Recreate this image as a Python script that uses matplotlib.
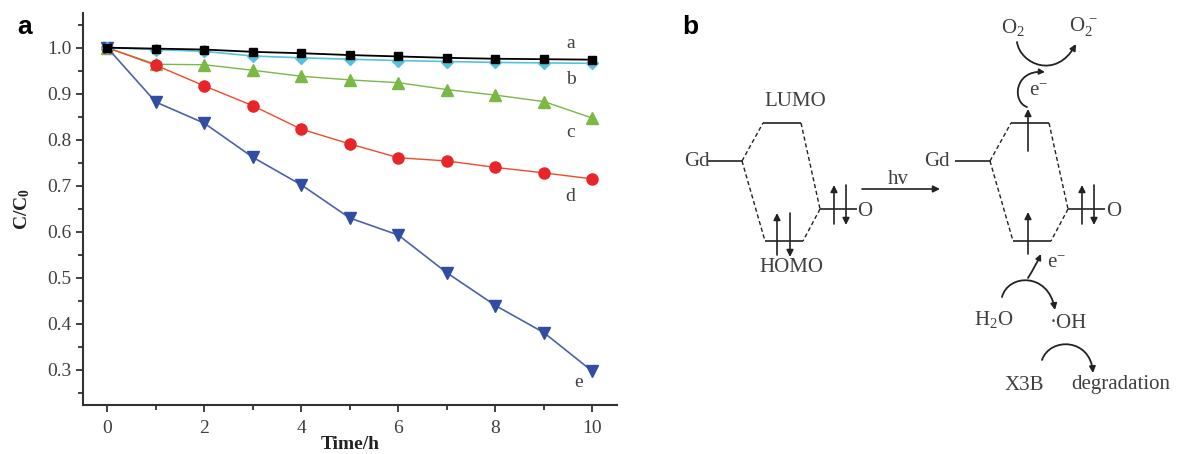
import matplotlib
matplotlib.use("Agg")
import matplotlib.pyplot as plt
from matplotlib.patches import FancyArrowPatch
from matplotlib.path import Path
from matplotlib.ticker import MultipleLocator

plt.rcParams['font.family'] = ['Liberation Serif', 'DejaVu Serif']
plt.rcParams['mathtext.fontset'] = 'custom'
plt.rcParams['mathtext.rm'] = 'Liberation Serif'
plt.rcParams['mathtext.it'] = 'Liberation Serif:italic'
plt.rcParams['mathtext.bf'] = 'Liberation Serif:bold'

# data
time = [0, 1, 2, 3, 4, 5, 6, 7, 8, 9, 10]
a_vals = [1.000, 0.998, 0.996, 0.991, 0.988, 0.984, 0.981, 0.978, 0.976, 0.975, 0.974]
b_vals = [1.000, 0.996, 0.992, 0.982, 0.978, 0.975, 0.972, 0.970, 0.968, 0.967, 0.966]
c_vals = [1.000, 0.964, 0.963, 0.951, 0.938, 0.930, 0.924, 0.909, 0.897, 0.883, 0.847]
d_vals = [1.000, 0.962, 0.917, 0.874, 0.823, 0.791, 0.761, 0.754, 0.740, 0.728, 0.715]
e_vals = [1.000, 0.882, 0.836, 0.762, 0.702, 0.630, 0.593, 0.511, 0.440, 0.381, 0.297]
curve_names = ['a', 'b', 'c', 'd', 'e']
name_pos = [(9.55, 1.010), (9.55, 0.932), (9.55, 0.815), (9.55, 0.677), (9.72, 0.272)]

fig = plt.figure(figsize=(11.77, 4.54), dpi=100)
ax = fig.add_axes([0.0705, 0.108, 0.4535, 0.863])

gray = '#404040'
ax.plot(time, b_vals, color='#56c3dc', lw=1.2, marker='D', ms=6, zorder=3)
ax.plot(time, a_vals, color='black', lw=1.3, marker='s', ms=5.5, zorder=4)
ax.plot(time, c_vals, color='#79b944', lw=1.0, marker='^', ms=8, zorder=2)
ax.plot(time, d_vals, color='#f04a28', lw=1.0, marker='o', ms=8, mfc='#e8262a', mec='#e8262a', zorder=2)
ax.plot(time, e_vals, color='#4a62b0', lw=1.2, marker='v', ms=8, mfc='#2f4ea3', mec='#2f4ea3', zorder=2)

for nm, (x, y) in zip(curve_names, name_pos):
    ax.text(x, y, nm, fontsize=14, color=gray, ha='center', va='center')

ax.set_xlim(-0.5, 10.5)
ax.set_ylim(0.224, 1.075)
ax.xaxis.set_major_locator(MultipleLocator(2))
ax.xaxis.set_minor_locator(MultipleLocator(1))
ax.yaxis.set_minor_locator(MultipleLocator(0.05))
ax.set_yticks([0.3, 0.4, 0.5, 0.6, 0.7, 0.8, 0.9, 1.0])
ax.set_yticklabels(['0.3', '0.4', '0.5', '0.6', '0.7', '0.8', '0.9', '1.0'])
for s in ['top', 'right']:
    ax.spines[s].set_visible(False)
for s in ['left', 'bottom']:
    ax.spines[s].set_linewidth(1.5)
    ax.spines[s].set_color('#333333')
ax.tick_params(which='major', direction='out', length=5, width=1.3, color='#333333',
               labelsize=14, labelcolor=gray)
ax.tick_params(axis='x', which='major', pad=6)
ax.tick_params(which='minor', direction='out', length=3.5, width=1.3, color='#333333')
ax.set_xlabel('Time/h', fontsize=14, fontweight='bold', color='#222222', labelpad=-1)
ax.set_ylabel(r'C/C$_\mathbf{0}$', fontsize=14, fontweight='bold', color='#222222', labelpad=11)

# panel b drawn in pixel coordinates
d = fig.add_axes([0, 0, 1, 1])
d.set_xlim(0, 1177)
d.set_ylim(454, 0)
d.axis('off')
d.patch.set_visible(False)

d.text(25, 27, 'a', fontsize=19, fontweight='bold', family='Liberation Sans', ha='center', va='center')
d.text(690, 27, 'b', fontsize=19, fontweight='bold', family='Liberation Sans', ha='center', va='center')

lc = '#222222'
fs = 15


def seg(x0, y0, x1, y1, dashed=False):
    d.plot([x0, x1], [y0, y1], color=lc, lw=1.2 if not dashed else 1.0,
           ls=(0, (3, 2)) if dashed else '-', solid_capstyle='butt')


def arr(x0, y0, x1, y1, hs=10):
    d.add_patch(FancyArrowPatch((x0, y0), (x1, y1), arrowstyle='-|>', mutation_scale=hs,
                                color=lc, lw=1.2, shrinkA=0, shrinkB=0))


def curve(p0, pm, p1, hs=9):
    cx = 2 * pm[0] - (p0[0] + p1[0]) / 2
    cy = 2 * pm[1] - (p0[1] + p1[1]) / 2
    path = Path([p0, (cx, cy), p1], [Path.MOVETO, Path.CURVE3, Path.CURVE3])
    d.add_patch(FancyArrowPatch(path=path, arrowstyle='-|>', mutation_scale=hs,
                                color=lc, lw=1.3))


def curve4(p0, c1, c2, p1, hs=9):
    path = Path([p0, c1, c2, p1], [Path.MOVETO, Path.CURVE4, Path.CURVE4, Path.CURVE4])
    d.add_patch(FancyArrowPatch(path=path, arrowstyle='-|>', mutation_scale=hs,
                                color=lc, lw=1.3))


def orbital(dx, right_side):
    # levels
    seg(707 + dx, 161, 742 + dx, 161)
    seg(763 + dx, 123, 801 + dx, 123)
    seg(765 + dx, 241, 803 + dx, 241)
    seg(820 + dx, 209, 857 + dx, 209)
    seg(742 + dx, 161, 763 + dx, 123, True)
    seg(742 + dx, 161, 765 + dx, 241, True)
    seg(801 + dx, 123, 820 + dx, 209, True)
    seg(820 + dx, 209, 803 + dx, 241, True)
    # O pair
    arr(834 + dx, 224, 834 + dx, 185)
    arr(846 + dx, 185, 846 + dx, 225)
    if right_side:
        arr(780 + dx, 254, 780 + dx, 212)
        arr(780 + dx, 151, 780 + dx, 109)
    else:
        arr(777, 255, 777, 213)
        arr(790, 213, 790, 257)


orbital(0, False)
orbital(248, True)

d.text(795, 102, 'LUMO', fontsize=fs, color=gray, ha='center', va='center')
d.text(791, 268, 'HOMO', fontsize=fs, color=gray, ha='center', va='center')
d.text(697, 162, 'Gd', fontsize=fs, color=gray, ha='center', va='center')
d.text(865, 211, 'O', fontsize=fs, color=gray, ha='center', va='center')
d.text(937, 162, 'Gd', fontsize=fs, color=gray, ha='center', va='center')
d.text(1114, 211, 'O', fontsize=fs, color=gray, ha='center', va='center')

arr(862, 189, 940, 189, hs=10)
d.text(898, 179, 'hv', fontsize=fs, color=gray, ha='center', va='center')

d.text(1013, 27, r'O$_2$', fontsize=fs, color=gray, ha='center', va='center')
d.text(1083, 27, r'O$_2^{\,-}$', fontsize=fs, color=gray, ha='center', va='center')
curve4((1017, 42), (1020, 64), (1056, 80), (1076, 44))
curve4((1027, 107), (1012, 102), (1014, 70), (1045, 72), hs=8)
d.text(1038, 91, r'e$^{-}$', fontsize=fs, color=gray, ha='center', va='center')

curve((1028, 278), (1035, 266), (1041, 254), hs=8)
d.text(1056, 263, r'e$^{-}$', fontsize=fs, color=gray, ha='center', va='center')
curve4((1002, 297), (1008, 274), (1048, 272), (1055, 310))
d.text(994, 320, r'H$_2$O', fontsize=fs, color=gray, ha='center', va='center')
d.text(1068, 324, '\u00b7OH', fontsize=fs, color=gray, ha='center', va='center')
curve4((1042, 360), (1050, 337), (1090, 338), (1093, 373))
d.text(1024, 385, 'X3B', fontsize=fs, color=gray, ha='center', va='center')
d.text(1121, 385, 'degradation', fontsize=fs, color=gray, ha='center', va='center')

fig.savefig('out.png', dpi=100)
